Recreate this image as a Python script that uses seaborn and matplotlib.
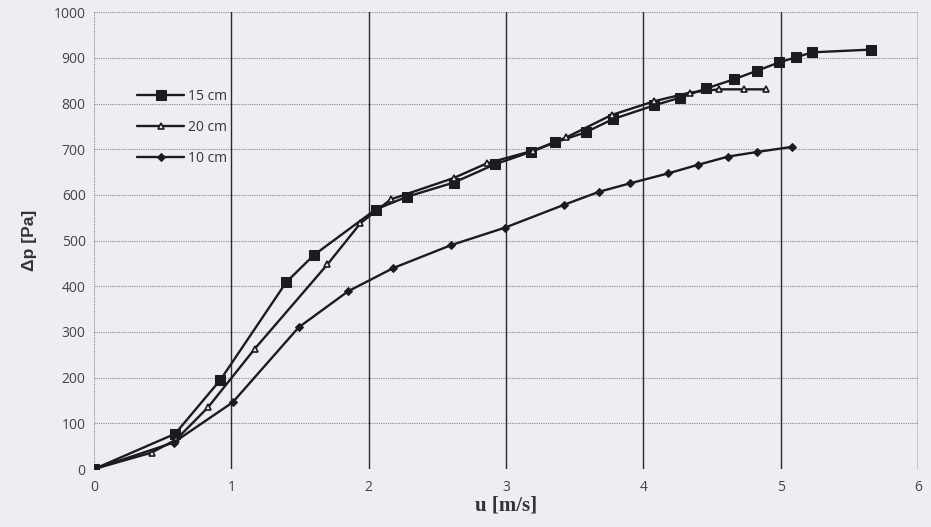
import matplotlib
matplotlib.use("Agg")
import matplotlib.pyplot as plt
import seaborn as sns
import pandas as pd

# 15 cm series (squares)
u_15 = [0, 0.59, 0.92, 1.40, 1.60, 2.05, 2.28, 2.62, 2.92, 3.18, 3.36, 3.58, 3.78,
        4.08, 4.27, 4.46, 4.66, 4.83, 4.99, 5.11, 5.23, 5.66]
dp_15 = [0, 77, 195, 409, 468, 568, 596, 627, 667, 694, 715, 737, 766,
         796, 813, 833, 853, 872, 890, 901, 912, 918]

# 20 cm series (open triangles)
u_20 = [0, 0.42, 0.60, 0.83, 1.17, 1.70, 1.94, 2.16, 2.62, 2.86, 3.20, 3.44, 3.77,
        4.08, 4.34, 4.55, 4.73, 4.89]
dp_20 = [0, 36, 65, 135, 263, 448, 538, 590, 637, 669, 697, 726, 775,
         805, 824, 831, 831, 831]

# 10 cm series (diamonds)
u_10 = [0, 0.58, 1.01, 1.49, 1.85, 2.18, 2.60, 2.99, 3.42, 3.68, 3.90, 4.18,
        4.40, 4.62, 4.83, 5.08]
dp_10 = [0, 58, 146, 310, 389, 440, 490, 528, 578, 607, 625, 647,
         666, 684, 694, 705]

x_ticks = [0, 1, 2, 3, 4, 5, 6]
y_ticks = [0, 100, 200, 300, 400, 500, 600, 700, 800, 900, 1000]

bg = "#eceef4"
ink = "#1c1c1c"

sns.set_style("white")
fig = plt.figure(figsize=(9.31, 5.27), dpi=100, facecolor=bg)
ax = fig.add_axes([0.101, 0.110, 0.885, 0.867])
ax.set_facecolor(bg)

series = [
    ("15 cm", u_15, dp_15, dict(marker="s", markersize=6.5, markerfacecolor=ink, markeredgecolor=ink)),
    ("20 cm", u_20, dp_20, dict(marker="^", markersize=5, markerfacecolor="#f0f0f0", markeredgecolor=ink, markeredgewidth=1.2)),
    ("10 cm", u_10, dp_10, dict(marker="D", markersize=4, markerfacecolor=ink, markeredgecolor=ink)),
]
for name, u, dp, mk in series:
    df = pd.DataFrame({"u": u, "dp": dp})
    sns.lineplot(data=df, x="u", y="dp", ax=ax, color=ink, linewidth=1.7,
                 sort=False, label=name, **mk)

ax.set_xlim(0, 6)
ax.set_ylim(0, 1000)
ax.set_xticks(x_ticks)
ax.set_yticks(y_ticks)
ax.set_xticklabels([str(t) for t in x_ticks])
ax.set_yticklabels([str(t) for t in y_ticks])

# grid: solid vertical, dotted horizontal
for t in y_ticks:
    ax.axhline(t, color="#8a8a8a", linestyle=(0, (1, 1)), linewidth=0.8, zorder=0)
for t in x_ticks[1:]:
    ax.axvline(t, color="#2a2a2a", linestyle="-", linewidth=1.0, zorder=0)
ax.axvline(0, color="#8a8a8a", linestyle=(0, (1, 1)), linewidth=0.8, zorder=0)
for s in ax.spines.values():
    s.set_visible(False)

ax.tick_params(axis="both", length=0, labelsize=10, labelcolor="#444444")
ax.tick_params(axis="x", pad=8)
ax.tick_params(axis="y", pad=6)
for lab in ax.get_xticklabels() + ax.get_yticklabels():
    lab.set_fontfamily("Open Sans")

ax.set_xlabel("u [m/s]", fontsize=15, fontweight="bold", family="Liberation Serif",
              color="#333333", labelpad=0)
ax.set_ylabel("Δp [Pa]", fontsize=12.5, fontweight="bold", family="Liberation Sans",
              color="#333333", labelpad=12)

leg = ax.legend(loc="upper left", bbox_to_anchor=(0.037, 0.86), frameon=False,
                handlelength=3.4, labelspacing=1.15, handletextpad=0.3,
                prop={"family": "Open Sans", "size": 10})
for t in leg.get_texts():
    t.set_color("#333333")

fig.savefig("out.png", dpi=100, facecolor=bg)
